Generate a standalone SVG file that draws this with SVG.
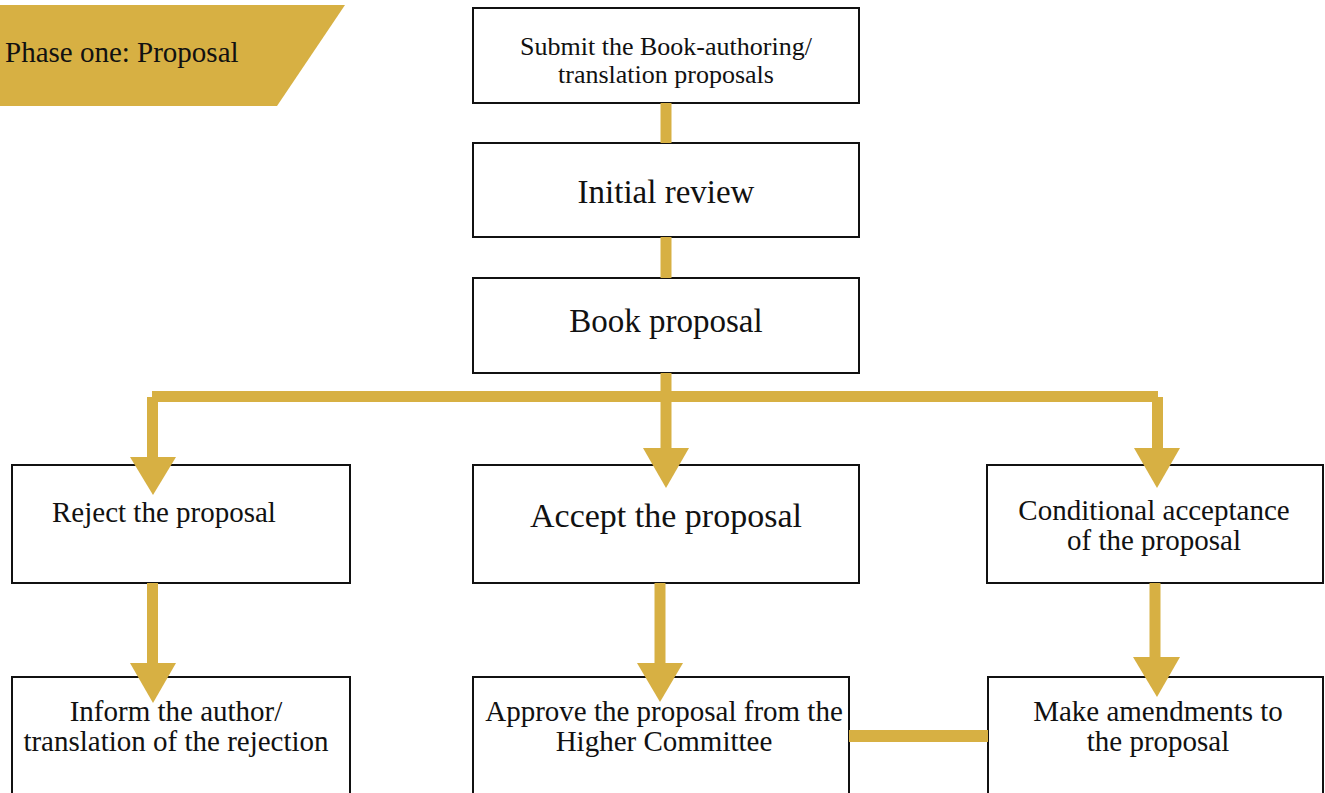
<svg xmlns="http://www.w3.org/2000/svg" width="1325" height="793" viewBox="0 0 1325 793">
  <style>
    .box { fill: #ffffff; stroke: #111111; stroke-width: 2; }
    .t { font-family: "Liberation Serif", "Times New Roman", serif; fill: #111111; text-anchor: middle; }
    .gold { fill: #D7B043; }
    .stem { stroke: #D7B043; fill: none; stroke-width: 11; }
  </style>
  <rect width="1325" height="793" fill="#ffffff"/>

  <g id="phase-banner">
    <polygon class="gold" points="0,5 345,5 277,106 0,106"/>
    <text x="5" y="62" font-size="29" class="t" style="text-anchor:start">Phase one: Proposal</text>
  </g>

  <g id="node-submit">
    <rect class="box" x="473" y="8" width="386" height="95"/>
    <text class="t" font-size="26" x="666" y="55">Submit the Book-authoring/</text>
    <text class="t" font-size="26" x="666" y="83">translation proposals</text>
  </g>

  <g id="node-initial-review">
    <rect class="box" x="473" y="143" width="386" height="94"/>
    <text class="t" font-size="33" x="666" y="203">Initial review</text>
  </g>

  <g id="node-book-proposal">
    <rect class="box" x="473" y="278" width="386" height="95"/>
    <text class="t" font-size="33" x="666" y="332">Book proposal</text>
  </g>

  <g id="node-reject">
    <rect class="box" x="12" y="465" width="338" height="118"/>
    <text class="t" font-size="29" x="52" y="522" style="text-anchor:start">Reject the proposal</text>
  </g>

  <g id="node-accept">
    <rect class="box" x="473" y="465" width="386" height="118"/>
    <text class="t" font-size="34" x="666" y="527">Accept the proposal</text>
  </g>

  <g id="node-conditional">
    <rect class="box" x="987" y="465" width="336" height="118"/>
    <text class="t" font-size="29" x="1154" y="520">Conditional acceptance</text>
    <text class="t" font-size="29" x="1154" y="550">of the proposal</text>
  </g>

  <g id="node-inform">
    <rect class="box" x="12" y="677" width="338" height="130"/>
    <text class="t" font-size="29" x="176" y="721">Inform the author/</text>
    <text class="t" font-size="29" x="176" y="751">translation of the rejection</text>
  </g>

  <g id="node-approve">
    <rect class="box" x="473" y="677" width="376" height="130"/>
    <text class="t" font-size="29" x="664" y="721">Approve the proposal from the</text>
    <text class="t" font-size="29" x="664" y="751">Higher Committee</text>
  </g>

  <g id="node-amend">
    <rect class="box" x="988" y="677" width="335" height="130"/>
    <text class="t" font-size="29" x="1158" y="721">Make amendments to</text>
    <text class="t" font-size="29" x="1158" y="751">the proposal</text>
  </g>

  <g id="connectors">
    <line class="stem" x1="666" y1="103" x2="666" y2="143"/>
    <line class="stem" x1="666" y1="237" x2="666" y2="278"/>
    <line class="stem" x1="666" y1="373" x2="666" y2="452"/>
    <rect class="gold" x="152" y="391" width="1006" height="11"/>
    <line class="stem" x1="152.5" y1="397" x2="152.5" y2="460"/>
    <line class="stem" x1="1157.5" y1="397" x2="1157.5" y2="452"/>
    <polygon class="gold" points="130,457 176,457 153,495"/>
    <polygon class="gold" points="643,448 689,448 666,488"/>
    <polygon class="gold" points="1134,448 1180,448 1157,488"/>

    <line class="stem" x1="152.5" y1="583" x2="152.5" y2="666"/>
    <line class="stem" x1="660" y1="583" x2="660" y2="666"/>
    <line class="stem" x1="1155" y1="583" x2="1155" y2="660"/>
    <polygon class="gold" points="130,663 176,663 153,703"/>
    <polygon class="gold" points="637,663 683,663 660,702"/>
    <polygon class="gold" points="1133,657 1180,657 1157,697"/>

    <rect class="gold" x="849" y="730" width="139" height="12"/>
  </g>
</svg>
